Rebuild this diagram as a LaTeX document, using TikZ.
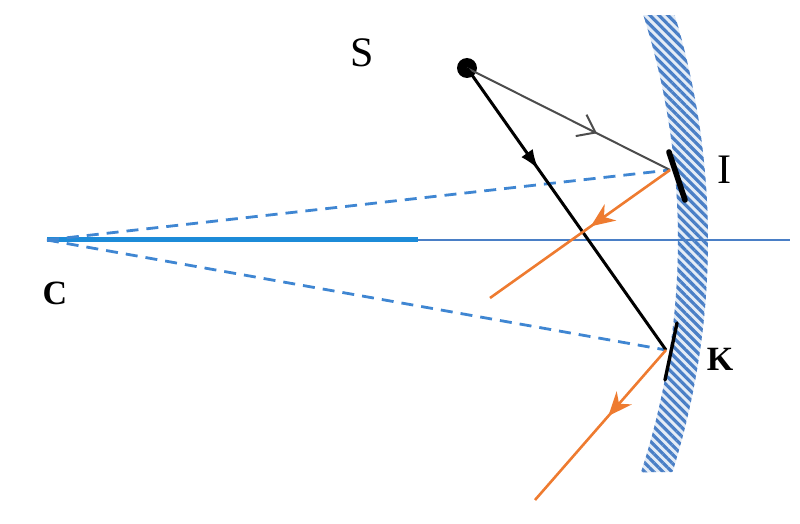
\documentclass[tikz,border=0pt]{standalone}
\usepackage{fontspec}
\setmainfont{Liberation Serif}
\usetikzlibrary{arrows.meta,decorations.markings,patterns.meta}
\definecolor{axisblue}{HTML}{1C8BD8}
\definecolor{mirrorblue}{HTML}{4A7FC6}
\definecolor{dashblue}{HTML}{3F86D2}
\definecolor{rayorange}{HTML}{EE7B30}
\tikzset{
  midarrow/.style 2 args={postaction={decorate},
    decoration={markings, mark=at position #1 with {\arrow{#2}}}},
  normalline/.style={dash pattern=on 6pt off 4pt, dashblue, line width=1.4pt},
  reflected/.style={rayorange, line width=1.3pt},
  tangentline/.style={line width=#1, line cap=round},
  biglabel/.style={font=\rmfamily\fontsize{21}{21}\selectfont},
  smalllabel/.style={font=\rmfamily\fontsize{17}{17}\selectfont\bfseries}
}
\begin{document}
\begin{tikzpicture}[x={0.5pt}, y={-0.5pt}]
    \useasboundingbox (0,0) rectangle (800,524);
    \fill[pattern={Lines[angle=-45,distance=3.2pt,line width=1.6pt]}, pattern color=mirrorblue,
        preaction={fill=mirrorblue!15}]
        plot[domain=-17.5:18.1, samples=40] ({-70+748*cos(\x)},{240+748*sin(\x)})
        -- plot[domain=17.35:-16.8, samples=40] ({-70+778*cos(\x)},{240+778*sin(\x)}) -- cycle;
    \coordinate (C) at (47,240);
    \coordinate (M) at (418,240);
    \coordinate (E) at (790,240);
    \coordinate (I) at (670,170);
    \coordinate (K) at (666,350);
    \coordinate (I1) at (669,152);
    \coordinate (I2) at (685,200);
    \coordinate (K1) at (677,323);
    \coordinate (K2) at (665,380);
    \coordinate (RI) at (490,298);
    \coordinate (RK) at (535,500);
    \draw[mirrorblue, line width=1pt] (M) -- (E);
    \draw[axisblue, line width=2.5pt] (C) -- (M);
    \draw[normalline] (C) -- (I);
    \draw[normalline] (C) -- (K);
    \node[circle, fill=black, inner sep=0pt, minimum size=10pt] (S) at (467,68) {};
    \draw[black!70, line width=1pt, midarrow={0.64}{Straight Barb[length=8pt,width=12pt]}] (S.center) -- (I);
    \draw[black, line width=1.5pt, midarrow={0.36}{Latex[length=10pt,width=7pt]}] (S.center) -- (K);
    \draw[reflected, midarrow={0.44}{Stealth[length=12pt,width=10pt]}] (I) -- (RI);
    \draw[reflected, midarrow={0.44}{Stealth[length=12pt,width=10pt]}] (K) -- (RK);
    \draw[tangentline=2.8pt] (I1) -- (I2);
    \draw[tangentline=1.7pt] (K1) -- (K2);
    \node[biglabel] (labS) at (362,53) {S};
    \node[biglabel] (labI) at (724,170) {I};
    \node[smalllabel] (labC) at (55,293) {C};
    \node[smalllabel] (labK) at (720,359) {K};
\end{tikzpicture}
\end{document}
